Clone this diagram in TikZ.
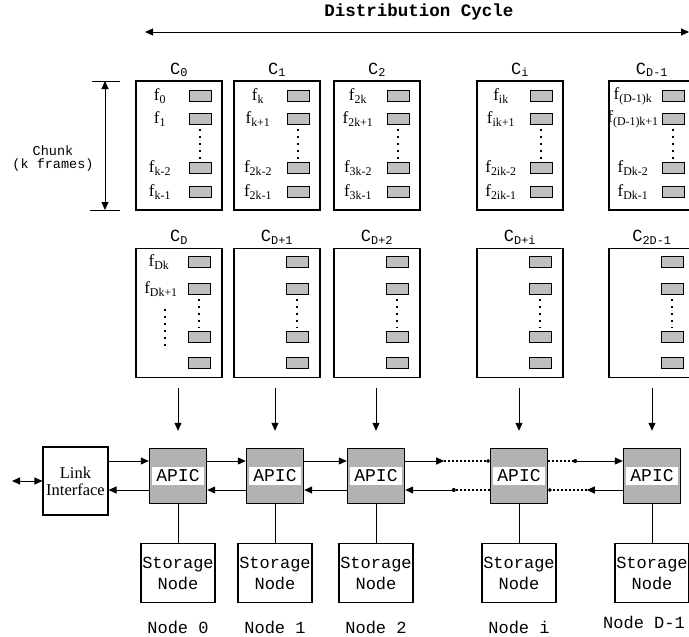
\documentclass[tikz,border=0pt]{standalone}
\usepackage{fontspec}
\setmainfont{Liberation Serif}
\setmonofont{Liberation Mono}
\usetikzlibrary{positioning,arrows.meta}

\tikzset{
    flow/.style={-{Triangle[length=8pt,width=7pt]}},
    dflow/.style={{Triangle[length=8pt,width=7pt]}-{Triangle[length=8pt,width=7pt]}},
}

\begin{document}
\begin{tikzpicture}[x=1pt,y=-1pt,line width=1pt,
    every node/.style={inner sep=0pt},
    chunkbox/.style={draw,line width=1.3pt,minimum width=86pt,minimum height=129pt},
    slot/.style={draw,line width=0.9pt,fill=gray!50,minimum width=22pt,minimum height=11pt},
    flab/.style={font=\fontsize{17}{17}\selectfont},
    chead/.style={font=\ttfamily\fontsize{17}{17}\selectfont},
    mono/.style={font=\ttfamily\fontsize{17}{17}\selectfont},
    apic/.style={draw,line width=1.4pt,fill=gray!60,minimum width=57pt,minimum height=55pt},
    storage/.style={draw,line width=1.1pt,minimum width=74pt,minimum height=59pt,
        align=center,font=\ttfamily\fontsize{17}{21}\selectfont},
    dotline/.style={line width=1.3pt,dash pattern=on 1.5pt off 2.5pt},
    vdots/.style={line width=2.2pt,dash pattern=on 2.2pt off 4.8pt,
        shorten <=4pt,shorten >=3pt}]
    \useasboundingbox (0,0) rectangle (689,637);

    % distribution cycle
    \node[font=\ttfamily\bfseries\fontsize{17.5}{17.5}\selectfont] (cycle) at (419,12)
        {Distribution Cycle};
    \coordinate (cl) at (145,32);
    \coordinate (cr) at (689,32);
    \draw[dflow] (cl) -- (cr);

    % chunk height
    \coordinate (ktop) at (105,81);
    \coordinate (kbot) at (105,210);
    \draw ([xshift=-13pt]ktop) -- ([xshift=15pt]ktop);
    \draw ([xshift=-15pt]kbot) -- ([xshift=15pt]kbot);
    \draw[dflow] (ktop) -- (kbot);
    \node[font=\ttfamily\fontsize{13.5}{13}\selectfont,align=center] (chunk) at (53,159)
        {Chunk\\(k frames)};

    % first round of chunks
    \foreach \n/\x/\hd/\fa/\fb/\fc/\fd in {0/179/0/0/1/k-2/k-1,
            1/277/1/k/k+1/2k-2/2k-1, 2/377/2/2k/2k+1/3k-2/3k-1,
            3/520/i/ik/ik+1/2ik-2/2ik-1, 4/652/D-1/{(D-1)k}/{(D-1)k+1}/Dk-2/Dk-1} {
        \node[chunkbox] (top\n) at (\x,145.5) {};
        \node[chead,above=3pt of top\n] (th\n) {C\textsubscript{\hd}};
        \foreach \r/\yy in {1/96,2/119,3/168,4/192}
            \node[slot] (ts\n-\r) at (\x+21,\yy) {};
        \draw[vdots] (ts\n-2.south) -- (ts\n-3.north);
        \node[flab] (tf\n-1) at (\x-19,96) {f\textsubscript{\fa}};
        \node[flab] (tf\n-2) at (\x-19,119) {f\textsubscript{\fb}};
        \node[flab] (tf\n-3) at (\x-19,168) {f\textsubscript{\fc}};
        \node[flab] (tf\n-4) at (\x-19,192) {f\textsubscript{\fd}};
    }

    % second round of chunks
    \foreach \n/\x/\hd in {0/179/D,1/277/D+1,2/377/D+2,3/520/D+i,4/652/2D-1} {
        \node[chunkbox] (bot\n) at (\x,313) {};
        \node[chead,above=3pt of bot\n] (bh\n) {C\textsubscript{\hd}};
        \foreach \r/\yy in {1/262,2/289,3/337,4/363}
            \node[slot] (bs\n-\r) at (\x+20,\yy) {};
        \draw[vdots] (bs\n-2.south) -- (bs\n-3.north);
    }
    \node[flab] (df1) at (159,262) {f\textsubscript{Dk}};
    \node[flab] (df2) at (161,289) {f\textsubscript{Dk+1}};
    \draw[vdots] (df2.south) ++(4,8) -- ++(0,44);

    % link interface
    \node[draw,line width=1.1pt,minimum width=65pt,minimum height=68pt,align=center,
        font=\fontsize{16.5}{17}\selectfont] (link) at (75.5,481) {Link\\Interface};
    \coordinate (ext) at (12,481);
    \draw[dflow] (ext) -- (link);

    % APICs and storage nodes
    \foreach \n/\x/\nd in {0/178/0,1/275/1,2/376/2,3/519/i,4/652/D-1} {
        \node[apic] (a\n) at (\x,476) {};
        \node[font=\ttfamily\fontsize{18}{18}\selectfont,fill=white,
            inner xsep=4pt,inner ysep=3pt] (al\n) at (a\n) {APIC};
        \draw[flow,shorten <=10pt,shorten >=17pt] (bot\n.south -| a\n.north) -- (a\n.north);
        \node[storage,below=39pt of a\n] (s\n) {Storage\\Node};
        \draw (a\n) -- (s\n);
        \coordinate (a\n-ui) at ([yshift=15pt]a\n.west);
        \coordinate (a\n-uo) at ([yshift=15pt]a\n.east);
        \coordinate (a\n-li) at ([yshift=-14pt]a\n.west);
        \coordinate (a\n-lo) at ([yshift=-14pt]a\n.east);
    }
    \foreach \n/\nd in {0/0,1/1,2/2,3/i}
        \node[mono,below=17pt of s\n] (nl\n) {Node \nd};
    \node[mono,below=12pt of s4,xshift=-8pt] (nl4) {Node D-1};

    % ring links
    \draw[flow] (link.east |- a0-ui) -- (a0-ui);
    \draw[flow] (a0-li) -- (link.east |- a0-li);
    \foreach \p/\q in {0/1,1/2} {
        \draw[flow] (a\p-uo) -- (a\q-ui);
        \draw[flow] (a\q-li) -- (a\p-lo);
    }
    \draw[flow] (a2-uo) -- ++(39,0) coordinate (g1);
    \draw[dotline,-{Circle[length=3.5pt]}] (g1) -- (a3-ui);
    \draw[dotline] (a3-li) -- ++(-36,0) coordinate (g2);
    \fill (g2) circle (2pt);
    \draw[flow] (g2) -- (a2-lo);
    \draw[dotline] (a3-uo) -- ++(27,0) coordinate (g3);
    \fill (g3) circle (2pt);
    \draw[flow] (g3) -- (a4-ui);
    \draw[flow] (a4-li) -- ++(-36,0) coordinate (g4);
    \draw[dotline,-{Circle[length=3.5pt]}] (g4) -- (a3-lo);
\end{tikzpicture}
\end{document}
